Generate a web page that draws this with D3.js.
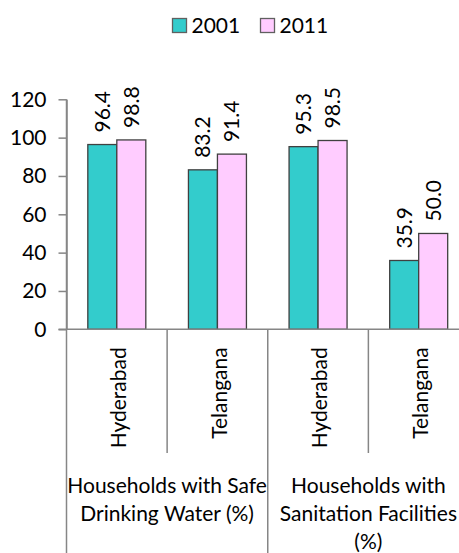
<!DOCTYPE html>
<html><head><meta charset="utf-8">
<script src="https://cdn.jsdelivr.net/npm/d3@7"></script>
<style>
html,body{margin:0;padding:0;background:#fff;}
svg{display:block;font-family:Lato,"Open Sans",sans-serif;}
</style></head>
<body>
<svg id="chart" width="459" height="553"></svg>
<script>
const categories = ["Hyderabad","Telangana","Hyderabad","Telangana"];
const groupLabels = [["Households with Safe","Drinking Water (%)"],["Households with","Sanitation Facilities","(%)"]];
const seriesNames = ["2001","2011"];
const values2001 = [96.4, 83.2, 95.3, 35.9];
const values2011 = [98.8, 91.4, 98.5, 50.0];
const yTicks = [0,20,40,60,80,100,120];

(function(){
const colors = ["#33CCCC","#FFCCFF"];
const svg = d3.select("#chart");
const fs = 21;
const mLeft = 66.5, mRight = 469, mTop = 99.3, mBottom = 329.3;

const y = d3.scaleLinear().domain([0,120]).range([mBottom, mTop]);
const x = d3.scaleBand().domain(d3.range(categories.length)).range([mLeft, mRight]).paddingInner(0).paddingOuter(0);
const xs = d3.scaleBand().domain(seriesNames).range([0, x.bandwidth()]).paddingInner(0).paddingOuter(0.735);

const data = categories.map((c,i)=>({i, vals:[values2001[i], values2011[i]]}));

const g = svg.append("g");
data.forEach(d=>{
  d.vals.forEach((v,k)=>{
    g.append("rect")
      .attr("x", x(d.i)+xs(seriesNames[k]))
      .attr("y", y(v))
      .attr("width", xs.bandwidth())
      .attr("height", y(0)-y(v))
      .attr("fill", colors[k])
      .attr("stroke","#404040").attr("stroke-width",1.3);
    g.append("text")
      .attr("transform",`translate(${x(d.i)+xs(seriesNames[k])+xs.bandwidth()/2},${y(v)-12}) rotate(-90)`)
      .attr("dy","0.35em")
      .attr("text-anchor","start")
      .attr("font-size",fs).attr("fill","#000")
      .text(v.toFixed(1));
  });
});

const yAxis = d3.axisLeft(y).tickValues(yTicks).tickSize(8).tickPadding(12).tickSizeOuter(0);
const ya = svg.append("g").attr("transform",`translate(${mLeft},0)`).call(yAxis);
ya.select(".domain").attr("stroke","#868686").attr("stroke-width",1.5);
ya.selectAll(".tick line").attr("stroke","#868686").attr("stroke-width",1.5);
ya.selectAll(".tick text").attr("font-size",fs).attr("fill","#000").attr("font-family","Lato");
svg.append("line").attr("x1",mLeft).attr("x2",mLeft).attr("y1",mTop).attr("y2",553)
  .attr("stroke","#868686").attr("stroke-width",1.5);

svg.append("line").attr("x1",mLeft-8).attr("x2",mRight).attr("y1",mBottom).attr("y2",mBottom)
  .attr("stroke","#868686").attr("stroke-width",1.5);

d3.range(1,categories.length+1).forEach(i=>{
  const xx = x(i-1)+x.bandwidth();
  const full = (i % 2 === 0);
  svg.append("line").attr("x1",xx).attr("x2",xx).attr("y1",mBottom).attr("y2", full?553:453)
    .attr("stroke","#868686").attr("stroke-width",1.5);
});

categories.forEach((c,i)=>{
  svg.append("text")
    .attr("transform",`translate(${x(i)+x.bandwidth()/2+2},${mBottom+18}) rotate(-90)`)
    .attr("dy","0.35em").attr("text-anchor","end")
    .attr("font-size",fs).attr("fill","#000").text(c);
});

groupLabels.forEach((lines,gi)=>{
  const cx = (x(gi*2) + x(gi*2+1)+x.bandwidth())/2;
  lines.forEach((t,li)=>{
    svg.append("text").attr("x",cx).attr("y",486+li*28).attr("dy","0.35em")
      .attr("text-anchor","middle").attr("font-size",fs).attr("fill","#000").text(t);
  });
});

const legX = [172.5, 260.5];
seriesNames.forEach((s,k)=>{
  svg.append("rect").attr("x",legX[k]).attr("y",18.5).attr("width",14).attr("height",14)
    .attr("fill",colors[k]).attr("stroke","#606060").attr("stroke-width",1.3);
  svg.append("text").attr("x",legX[k]+19).attr("y",25.5).attr("dy","0.35em")
    .attr("font-size",fs).attr("fill","#000").text(s);
});
})();
</script>
</body></html>
